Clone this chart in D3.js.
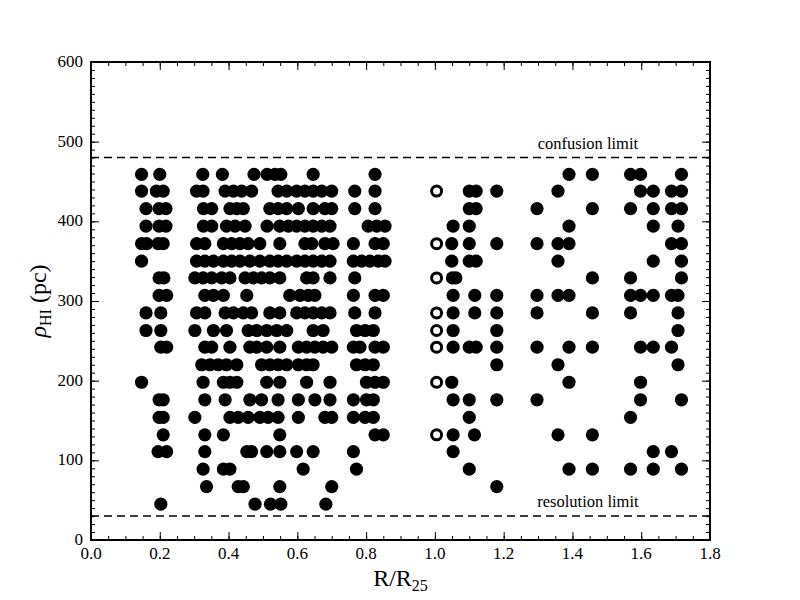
<!DOCTYPE html>
<html><head><meta charset="utf-8">
<script src="https://cdn.jsdelivr.net/npm/d3@7"></script>
<style>body{margin:0;background:#fff}svg{display:block}text{font-family:"Liberation Serif","Times New Roman",serif}</style>
</head><body>
<svg id="c" width="800" height="600"></svg>
<script>
const rhoLevels = [459,438,416,394,372,350,329,307,285,263,242,220,198,176,154,132,111,89,67,45];
const filledR = [
 [0.147,0.20,0.325,0.382,0.474,0.512,0.535,0.552,0.646,0.826,1.39,1.458,1.569,1.598,1.717],
 [0.147,0.19,0.21,0.307,0.326,0.39,0.414,0.438,0.467,0.544,0.569,0.598,0.622,0.646,0.671,0.70,0.767,0.826,1.10,1.12,1.18,1.358,1.598,1.635,1.688,1.717],
 [0.16,0.198,0.218,0.327,0.351,0.404,0.424,0.443,0.52,0.544,0.569,0.603,0.646,0.68,0.70,0.767,0.826,1.10,1.12,1.297,1.458,1.569,1.635,1.688,1.717],
 [0.16,0.198,0.218,0.327,0.351,0.394,0.419,0.448,0.512,0.549,0.574,0.598,0.622,0.646,0.671,0.695,0.806,0.831,0.855,1.053,1.10,1.39,1.635,1.707],
 [0.147,0.162,0.195,0.21,0.307,0.331,0.385,0.409,0.433,0.457,0.491,0.549,0.622,0.642,0.68,0.704,0.763,0.826,0.85,1.049,1.10,1.18,1.297,1.358,1.39,1.688,1.717],
 [0.147,0.307,0.331,0.356,0.385,0.409,0.433,0.462,0.491,0.520,0.544,0.569,0.598,0.622,0.646,0.671,0.695,0.763,0.787,0.811,0.835,0.855,1.049,1.10,1.12,1.358,1.635,1.717],
 [0.198,0.212,0.302,0.326,0.351,0.380,0.404,0.448,0.472,0.496,0.520,0.549,0.627,0.646,0.695,0.767,1.051,1.061,1.458,1.569,1.717],
 [0.198,0.22,0.331,0.356,0.385,0.453,0.578,0.608,0.632,0.651,0.763,0.826,0.85,1.053,1.116,1.18,1.297,1.358,1.39,1.569,1.598,1.635,1.688,1.707],
 [0.16,0.203,0.307,0.331,0.39,0.414,0.443,0.467,0.52,0.549,0.598,0.622,0.646,0.671,0.695,0.767,0.826,1.053,1.116,1.18,1.297,1.458,1.569,1.707],
 [0.16,0.203,0.302,0.356,0.394,0.457,0.482,0.511,0.540,0.569,0.646,0.675,0.772,0.797,0.821,1.053,1.18,1.707],
 [0.203,0.22,0.331,0.351,0.404,0.462,0.482,0.511,0.549,0.603,0.627,0.651,0.675,0.700,0.763,0.782,0.826,0.85,1.053,1.10,1.12,1.18,1.297,1.39,1.458,1.598,1.635,1.688],
 [0.322,0.346,0.370,0.394,0.424,0.496,0.520,0.544,0.569,0.603,0.627,0.646,0.772,0.797,0.821,1.18,1.358,1.707],
 [0.147,0.326,0.385,0.404,0.424,0.511,0.549,0.627,0.695,0.801,0.826,0.85,1.049,1.39,1.598],
 [0.198,0.21,0.331,0.390,0.462,0.496,0.544,0.603,0.651,0.695,0.763,0.801,0.821,1.053,1.10,1.18,1.297,1.598,1.717],
 [0.198,0.21,0.302,0.404,0.428,0.457,0.491,0.515,0.544,0.603,0.68,0.70,0.763,0.797,0.821,1.10,1.569],
 [0.21,0.331,0.385,0.549,0.826,0.85,1.053,1.115,1.358,1.458],
 [0.195,0.22,0.331,0.453,0.467,0.511,0.549,0.598,0.646,0.763,1.053,1.635,1.688],
 [0.326,0.385,0.404,0.617,0.772,1.10,1.39,1.458,1.569,1.635,1.717],
 [0.336,0.428,0.443,0.549,0.700,1.18],
 [0.203,0.477,0.522,0.552,0.683]
];
const openR = [1.005,1.005,1.005,1.005,1.005,1.005,1.005,1.005];
const openRho = [438,372,329,285,263,242,198,132];
const xTicks = [0,0.2,0.4,0.6,0.8,1.0,1.2,1.4,1.6,1.8];
const yTicks = [0,100,200,300,400,500,600];
const limits = [{v:480,label:"confusion limit"},{v:30,label:"resolution limit"}];

const svg = d3.select("#c");
const L=91,R=710,T=62,B=540;
const x = d3.scaleLinear().domain([0,1.8]).range([L,R]);
const y = d3.scaleLinear().domain([0,600]).range([B,T]);

// limit lines
limits.forEach(l=>{
  svg.append("line").attr("x1",L).attr("x2",R).attr("y1",y(l.v)).attr("y2",y(l.v))
    .attr("stroke","#000").attr("stroke-width",1.5).attr("stroke-dasharray","8,5");
  svg.append("text").attr("x",x(1.445)).attr("y",y(l.v)-9).attr("text-anchor","middle")
    .attr("font-size",16.5).text(l.label);
});

// points
const filled=[];
rhoLevels.forEach((rho,i)=>filledR[i].forEach(r=>filled.push({r,rho})));
svg.append("g").selectAll("circle").data(filled).join("circle")
  .attr("cx",d=>x(d.r)).attr("cy",d=>y(d.rho)).attr("r",6.6).attr("fill","#000");
svg.append("g").selectAll("circle").data(openR.map((r,i)=>({r,rho:openRho[i]}))).join("circle")
  .attr("cx",d=>x(d.r)).attr("cy",d=>y(d.rho)).attr("r",5).attr("fill","#fff")
  .attr("stroke","#000").attr("stroke-width",3);

// axes with inward ticks
const minorX = d3.range(0,1.8001,0.05);
const minorY = d3.range(0,600.1,10);
function ax(g,axis){ g.call(axis); g.select(".domain").remove(); g.selectAll("text").remove(); g.selectAll("line").attr("stroke","#000").attr("stroke-width",1); }
svg.append("g").attr("transform",`translate(0,${B})`).call(g=>ax(g,d3.axisTop(x).tickValues(minorX).tickSize(4)));
svg.append("g").attr("transform",`translate(0,${B})`).call(g=>ax(g,d3.axisTop(x).tickValues(xTicks).tickSize(8)));
svg.append("g").attr("transform",`translate(0,${T})`).call(g=>ax(g,d3.axisBottom(x).tickValues(minorX).tickSize(4)));
svg.append("g").attr("transform",`translate(0,${T})`).call(g=>ax(g,d3.axisBottom(x).tickValues(xTicks).tickSize(8)));
svg.append("g").attr("transform",`translate(${L},0)`).call(g=>ax(g,d3.axisRight(y).tickValues(minorY).tickSize(4)));
svg.append("g").attr("transform",`translate(${L},0)`).call(g=>ax(g,d3.axisRight(y).tickValues(yTicks).tickSize(8)));
svg.append("g").attr("transform",`translate(${R},0)`).call(g=>ax(g,d3.axisLeft(y).tickValues(minorY).tickSize(4)));
svg.append("g").attr("transform",`translate(${R},0)`).call(g=>ax(g,d3.axisLeft(y).tickValues(yTicks).tickSize(8)));

// frame
svg.append("rect").attr("x",L).attr("y",T).attr("width",R-L).attr("height",B-T)
  .attr("fill","none").attr("stroke","#000").attr("stroke-width",2);

// tick labels
svg.append("g").selectAll("text").data(xTicks).join("text")
  .attr("x",d=>x(d)).attr("y",B+19).attr("text-anchor","middle").attr("font-size",17)
  .text(d=>d3.format(".1f")(d));
svg.append("g").selectAll("text").data(yTicks).join("text")
  .attr("x",L-8).attr("y",d=>y(d)+5).attr("text-anchor","end").attr("font-size",17)
  .text(d=>d);

// axis titles
const xt = svg.append("text").attr("x",(L+R)/2).attr("y",586).attr("text-anchor","middle").attr("font-size",24);
xt.append("tspan").text("R/R");
xt.append("tspan").attr("font-size",16).attr("dy",5).text("25");

const yt = svg.append("text").attr("transform",`translate(46,${(T+B)/2}) rotate(-90)`).attr("text-anchor","middle").attr("font-size",24);
yt.append("tspan").attr("font-style","italic").text("ρ");
yt.append("tspan").attr("font-size",16).attr("dy",5).text("HI");
yt.append("tspan").attr("dy",-5).text(" (pc)");
</script>
</body></html>
